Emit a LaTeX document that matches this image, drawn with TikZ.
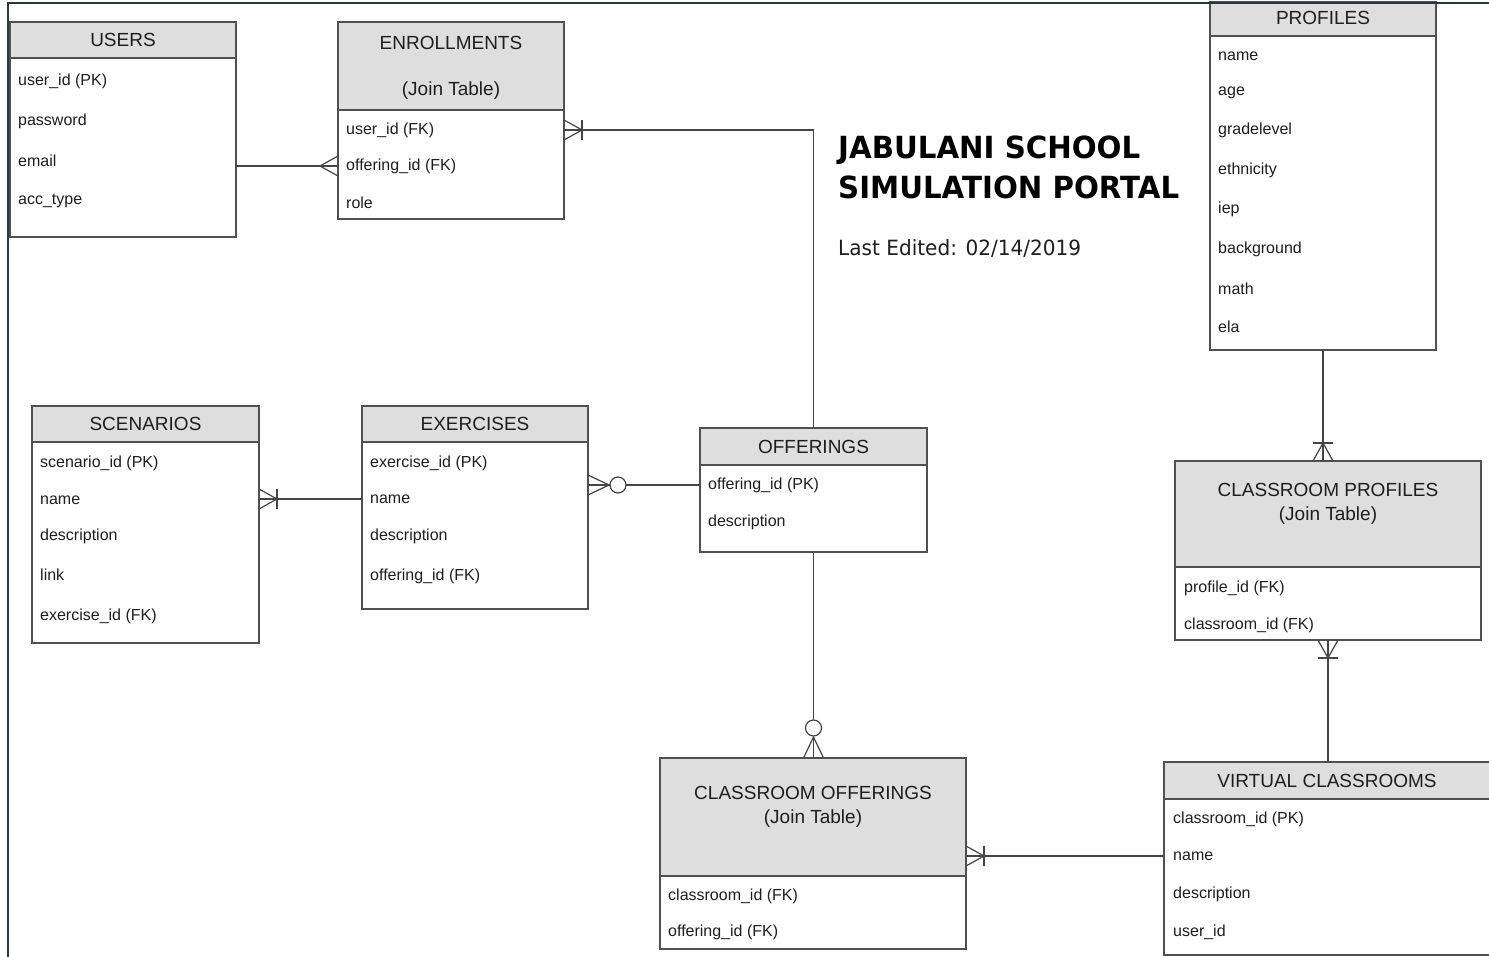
\documentclass[tikz,border=0pt]{standalone}
\usepackage{fontspec}
\setmainfont{Liberation Sans}
\newfontfamily\titlefont{DejaVu Sans}
\usetikzlibrary{calc}
\definecolor{bordc}{HTML}{505050}
\definecolor{headc}{HTML}{DEDEDE}
\definecolor{txtc}{HTML}{1E1E1E}
\definecolor{linec}{HTML}{454545}
\definecolor{framec}{HTML}{263845}
\tikzset{
  body/.style={draw=bordc, line width=1.3pt, fill=white, anchor=north west, inner sep=0pt, outer sep=0pt},
  head/.style={draw=bordc, line width=1.3pt, fill=headc, anchor=north west, inner sep=0pt, outer sep=0pt},
  htext/.style={font=\fontsize{19}{22}\selectfont, text=txtc, inner sep=0pt},
  item/.style={font=\fontsize{16}{18}\selectfont, text=txtc, anchor=west, inner sep=0pt},
  link/.style={draw=linec, line width=1.2pt},
  manyfoot/.pic={\draw[link] (0,-10) -- (18,0) -- (0,10);},
  onemany/.pic={\draw[link] (0,-10) -- (18,0) -- (0,10); \draw[link] (18,-10) -- (18,10);},
  zeromany/.pic={\draw[link] (0,-10) -- (21,0) -- (0,10); \draw[link, fill=white] (30,0) circle (8);},
}
\begin{document}
\begin{tikzpicture}[x=1pt, y=-1pt]
\clip (0,0) rectangle (1489,957);
\fill[white] (0,0) rectangle (1489,957);

% USERS
\node[body, minimum width=226pt, minimum height=215pt] (users) at (10,22) {};
\node[head, minimum width=226pt, minimum height=36pt] (usersh) at (10,22) {};
\node[htext] (usersht) at (usersh.center) {USERS};
\node[item] (us1) at (18,81) {user\_id (PK)};
\node[item] (us2) at (18,121) {password};
\node[item] (us3) at (18,161) {email};
\node[item] (us4) at (18,201) {acc\_type};

% ENROLLMENTS
\node[body, minimum width=226pt, minimum height=197pt] (enroll) at (338,22) {};
\node[head, minimum width=226pt, minimum height=88pt] (enrollh) at (338,22) {};
\node[htext] (enrollt1) at (451,43) {ENROLLMENTS};
\node[htext] (enrollt2) at (451,91) {(Join Table)};
\node[item] (en1) at (346,130) {user\_id (FK)};
\node[item] (en2) at (346,166) {offering\_id (FK)};
\node[item] (en3) at (346,203) {role};

% PROFILES
\node[body, minimum width=226pt, minimum height=348pt] (prof) at (1210,2) {};
\node[head, minimum width=226pt, minimum height=34pt] (profh) at (1210,2) {};
\node[htext] (proft) at (1323,18) {PROFILES};
\node[item] (pr1) at (1218,56) {name};
\node[item] (pr2) at (1218,93) {age};
\node[item] (pr3) at (1218,130) {gradelevel};
\node[item] (pr4) at (1218,170) {ethnicity};
\node[item] (pr5) at (1218,209) {iep};
\node[item] (pr6) at (1218,249) {background};
\node[item] (pr7) at (1218,289) {math};
\node[item] (pr8) at (1218,327) {ela};

% SCENARIOS
\node[body, minimum width=227pt, minimum height=237pt] (scen) at (32,406) {};
\node[head, minimum width=227pt, minimum height=36pt] (scenh) at (32,406) {};
\node[htext] (scent) at (scenh.center) {SCENARIOS};
\node[item] (sc1) at (40,463) {scenario\_id (PK)};
\node[item] (sc2) at (40,500) {name};
\node[item] (sc3) at (40,536) {description};
\node[item] (sc4) at (40,575) {link};
\node[item] (sc5) at (40,616) {exercise\_id (FK)};

% EXERCISES
\node[body, minimum width=226pt, minimum height=203pt] (ex) at (362,406) {};
\node[head, minimum width=226pt, minimum height=36pt] (exh) at (362,406) {};
\node[htext] (ext) at (exh.center) {EXERCISES};
\node[item] (ex1) at (370,463) {exercise\_id (PK)};
\node[item] (ex2) at (370,499) {name};
\node[item] (ex3) at (370,536) {description};
\node[item] (ex4) at (370,576) {offering\_id (FK)};

% OFFERINGS
\node[body, minimum width=227pt, minimum height=124pt] (offer) at (700,428) {};
\node[head, minimum width=227pt, minimum height=37pt] (offerh) at (700,428) {};
\node[htext] (offert) at (offerh.center) {OFFERINGS};
\node[item] (of1) at (708,485) {offering\_id (PK)};
\node[item] (of2) at (708,522) {description};

% CLASSROOM OFFERINGS
\node[body, minimum width=306pt, minimum height=191pt] (co) at (660,758) {};
\node[head, minimum width=306pt, minimum height=118pt] (coh) at (660,758) {};
\node[htext] (cot1) at (813,793) {CLASSROOM OFFERINGS};
\node[htext] (cot2) at (813,819) {(Join Table)};
\node[item] (co1) at (668,896) {classroom\_id (FK)};
\node[item] (co2) at (668,932) {offering\_id (FK)};

% CLASSROOM PROFILES
\node[body, minimum width=306pt, minimum height=179pt] (cp) at (1175,461) {};
\node[head, minimum width=306pt, minimum height=106pt] (cph) at (1175,461) {};
\node[htext] (cpt1) at (1328,490) {CLASSROOM PROFILES};
\node[htext] (cpt2) at (1328,516) {(Join Table)};
\node[item] (cp1) at (1184,588) {profile\_id (FK)};
\node[item] (cp2) at (1184,625) {classroom\_id (FK)};

% VIRTUAL CLASSROOMS
\node[body, minimum width=330pt, minimum height=193pt] (vc) at (1164,762) {};
\node[head, minimum width=330pt, minimum height=37pt] (vch) at (1164,762) {};
\node[htext] (vct) at (1327,781) {VIRTUAL CLASSROOMS};
\node[item] (vc1) at (1173,819) {classroom\_id (PK)};
\node[item] (vc2) at (1173,856) {name};
\node[item] (vc3) at (1173,894) {description};
\node[item] (vc4) at (1173,932) {user\_id};

% Title
\node[anchor=west, inner sep=0pt, text=black, font=\titlefont\bfseries\fontsize{30.5}{36}\selectfont] (title1) at (838,150) {\scalebox{0.96}[1]{JABULANI SCHOOL}};
\node[anchor=west, inner sep=0pt, text=black, font=\titlefont\bfseries\fontsize{30.5}{36}\selectfont] (title2) at (838,187) {\scalebox{0.96}[1]{SIMULATION PORTAL}};
\node[anchor=west, inner sep=0pt, text=txtc, font=\titlefont\fontsize{21}{25}\selectfont] (edited) at (838,248) {\scalebox{0.955}[1]{Last Edited: 02/14/2019}};

% Connectors
\draw[link] (users.east |- en2) -- (enroll.west |- en2);
\pic[rotate=180] at (enroll.west |- en2) {manyfoot};

\draw[link] (enroll.east |- en1) -- (offer.north |- en1) -- (offer.north);
\pic at (enroll.east |- en1) {onemany};

\draw[link] (scen.east |- ex2) -- (ex.west |- ex2);
\pic at (scen.east |- ex2) {onemany};

\draw[link] (ex.east |- of1) -- (offer.west |- of1);
\pic at (ex.east |- of1) {zeromany};

\draw[link] (offer.south) -- (offer.south |- co.north);
\pic[rotate=90] at (offer.south |- co.north) {zeromany};

\draw[link] (co.east |- vc2) -- (vc.west |- vc2);
\pic at (co.east |- vc2) {onemany};

\draw[link] (prof.south) -- (prof.south |- cp.north);
\pic[rotate=90] at (prof.south |- cp.north) {onemany};

\draw[link] (cp.south) -- (cp.south |- vc.north);
\pic[rotate=-90] at (cp.south) {onemany};

% Frame
\coordinate (ftl) at (8,3);
\coordinate (ftr) at (1489,3);
\coordinate (fbl) at (8,957);
\draw[framec, line width=2.2pt] (ftr) -- (ftl) -- (fbl);
\end{tikzpicture}
\end{document}
